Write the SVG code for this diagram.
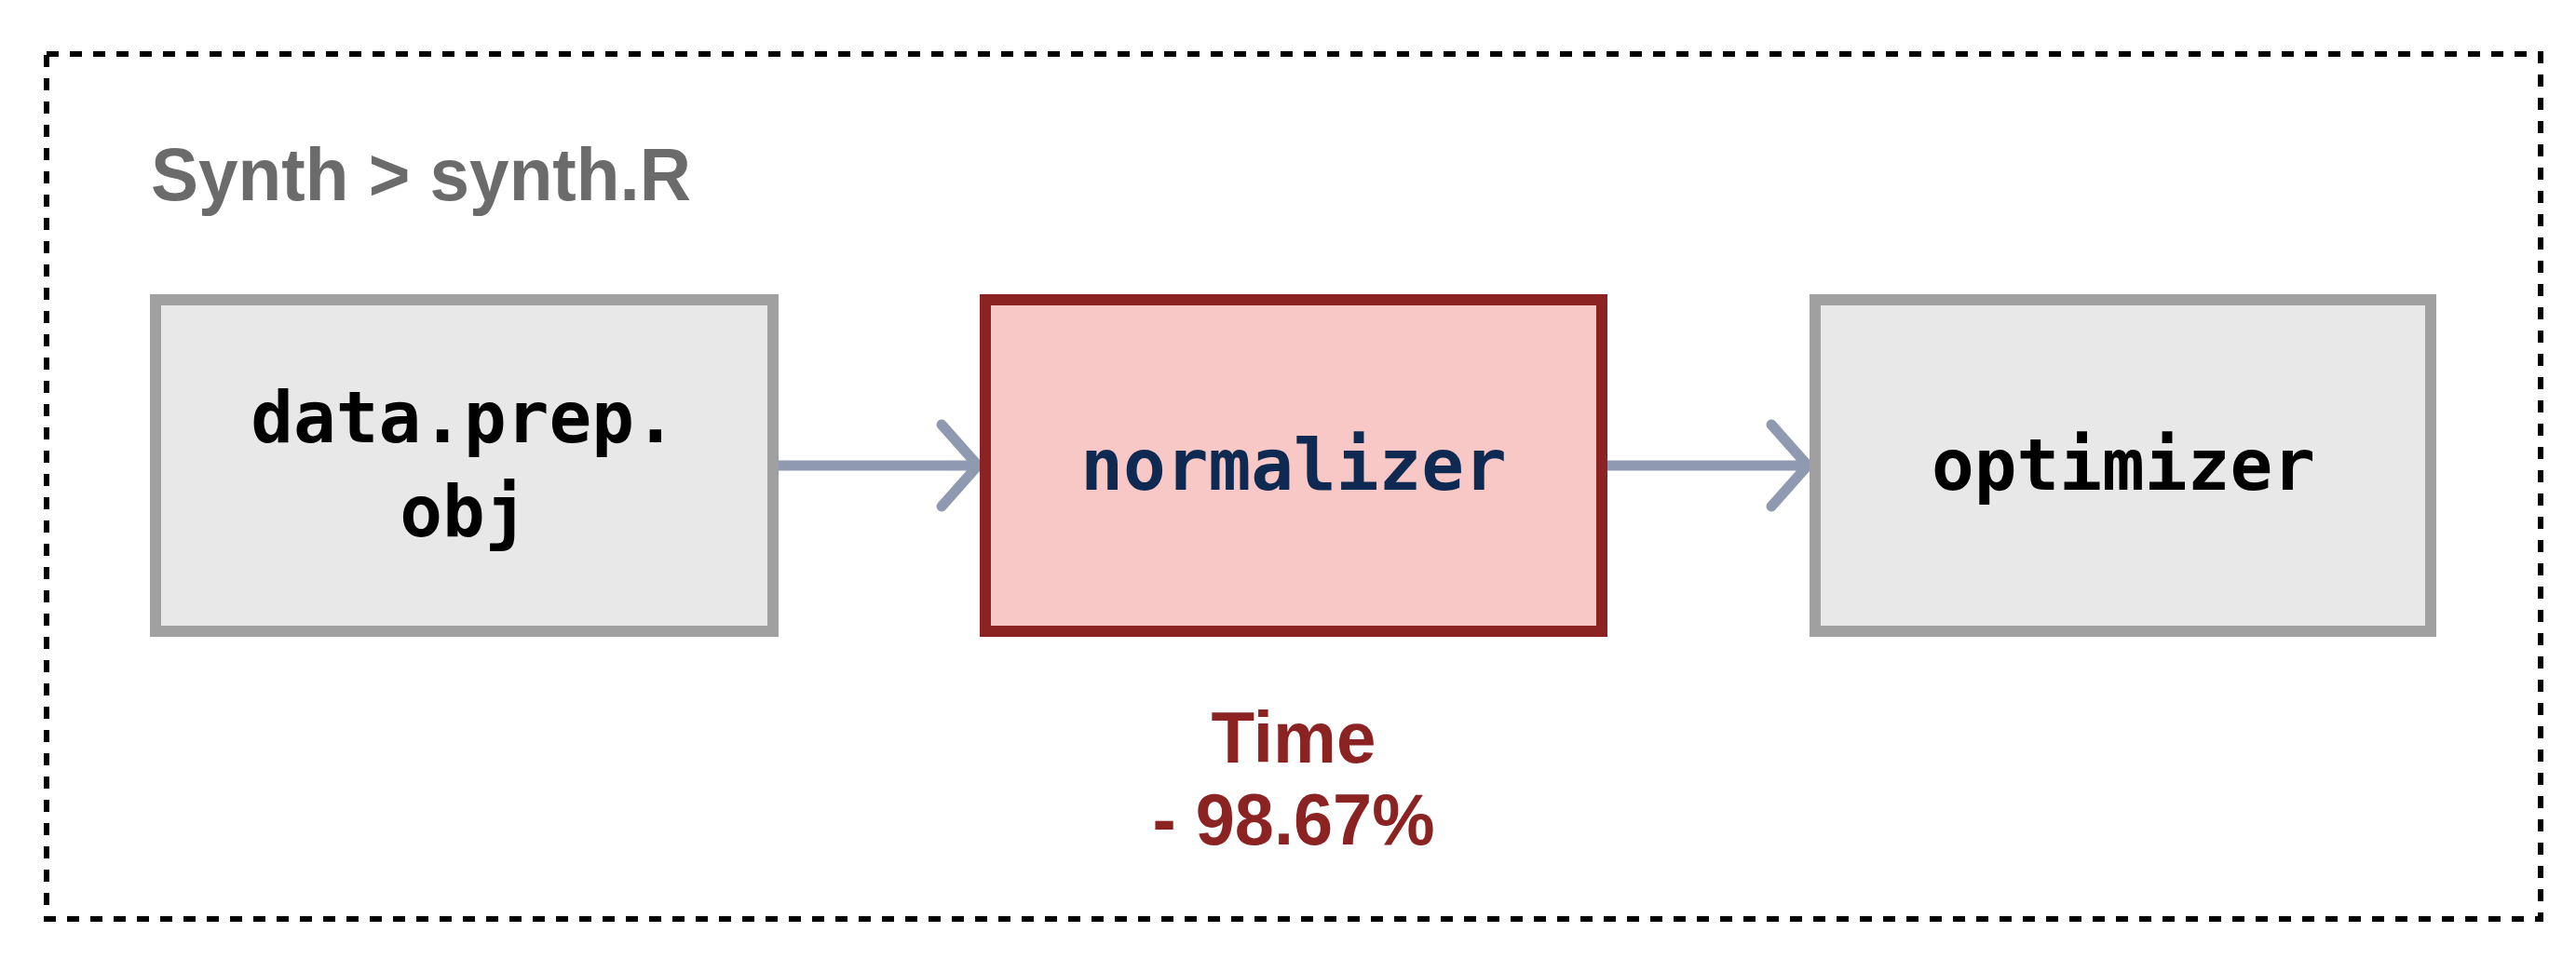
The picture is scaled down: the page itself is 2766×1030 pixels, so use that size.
<svg xmlns="http://www.w3.org/2000/svg" width="2766" height="1030" viewBox="0 0 2766 1030">
<style>
.frame{fill:none;stroke:#000;stroke-width:6;stroke-dasharray:13 12}
.box{fill:#e8e8e8;stroke:#a0a0a0;stroke-width:12}
.hot{fill:#f8c8c6;stroke:#8b2323;stroke-width:12}
.mono{font-family:"DejaVu Sans Mono","Liberation Mono",monospace;font-weight:bold;font-size:76px;text-anchor:middle}
.sans{font-family:"Liberation Sans",Arial,sans-serif;font-weight:bold}
.conn{stroke:#8f9ab0;stroke-width:11;fill:none;stroke-linecap:round;stroke-linejoin:round}
</style>
<rect width="2766" height="1030" fill="#fff"/>
<rect class="frame" x="50" y="58" width="2678" height="929"/>
<text class="sans" x="162" y="215" font-size="79" fill="#6b6b6b" textLength="580" lengthAdjust="spacingAndGlyphs">Synth &gt; synth.R</text>
<g id="connectors">
<path class="conn" d="M836 500H1050M1011 456L1050 500L1011 544"/>
<path class="conn" d="M1726 500H1941M1902 456L1941 500L1902 544"/>
</g>
<g id="node-data-prep">
<rect class="box" x="167" y="322" width="663" height="356"/>
<text class="mono" x="498" y="475" fill="#000">data.prep.</text>
<text class="mono" x="498" y="576" fill="#000">obj</text>
</g>
<g id="node-normalizer">
<rect class="hot" x="1058" y="322" width="662" height="356"/>
<text class="mono" x="1389" y="526" fill="#0f2a52">normalizer</text>
</g>
<g id="node-optimizer">
<rect class="box" x="1949" y="322" width="661" height="356"/>
<text class="mono" x="2280" y="526" fill="#000">optimizer</text>
</g>
<g id="time-label" class="sans" font-size="78" fill="#8b2323" text-anchor="middle">
<text x="1389" y="819" textLength="177" lengthAdjust="spacingAndGlyphs">Time</text>
<text x="1389" y="907" textLength="303" lengthAdjust="spacingAndGlyphs">- 98.67%</text>
</g>
</svg>
